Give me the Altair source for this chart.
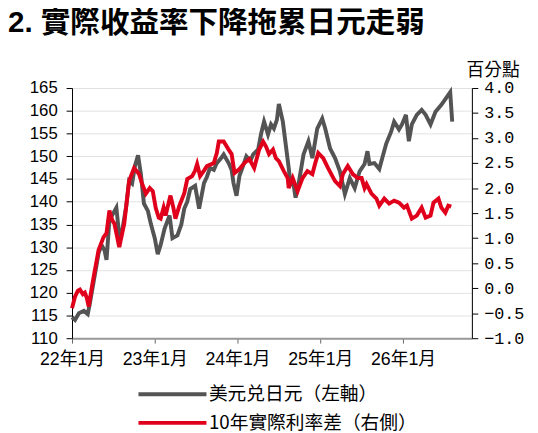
import altair as alt
import pandas as pd

LBL_USD = "美元兑日元（左軸）"
LBL_RR = "10年實際利率差（右側）"
TITLE = "2. 實際收益率下降拖累日元走弱"

usd_t = [2022.000, 2022.036, 2022.083, 2022.143, 2022.190, 2022.214, 2022.262, 2022.321, 2022.357, 2022.393,
         2022.417, 2022.452, 2022.500, 2022.536, 2022.571, 2022.607, 2022.655, 2022.690, 2022.726, 2022.762,
         2022.798, 2022.833, 2022.869, 2022.917, 2022.952, 2023.000, 2023.036, 2023.071, 2023.119, 2023.179,
         2023.214, 2023.274, 2023.321, 2023.357, 2023.393, 2023.429, 2023.488, 2023.536, 2023.595, 2023.631,
         2023.667, 2023.714, 2023.750, 2023.798, 2023.833, 2023.893, 2023.929, 2023.952, 2023.988, 2024.024,
         2024.060, 2024.107, 2024.155, 2024.190, 2024.250, 2024.286, 2024.321, 2024.369, 2024.405, 2024.440,
         2024.476, 2024.500, 2024.548, 2024.583, 2024.619, 2024.643, 2024.667, 2024.702, 2024.738, 2024.798,
         2024.857, 2024.905, 2024.964, 2025.024, 2025.060, 2025.119, 2025.179, 2025.238, 2025.298, 2025.357,
         2025.417, 2025.476, 2025.536, 2025.571, 2025.595, 2025.655, 2025.714, 2025.750, 2025.798, 2025.857,
         2025.893, 2025.952, 2025.988, 2026.036, 2026.071, 2026.107, 2026.167, 2026.226, 2026.274, 2026.333,
         2026.393, 2026.464, 2026.548, 2026.571, 2026.595]
usd_v = [114.6, 114.0, 115.5, 116.0, 115.3, 117.5, 122.5, 128.7, 130.5, 129.3,
         127.2, 136.0, 137.5, 138.7, 132.5, 133.7, 139.0, 144.6, 144.0, 148.0,
         150.2, 146.0, 139.6, 138.0, 135.2, 132.0, 128.5, 130.5, 134.1, 137.0,
         132.0, 132.6, 135.0, 138.5, 140.0, 142.8, 143.5, 138.5, 144.1, 145.5,
         147.4, 147.0, 148.5, 149.5, 150.4, 148.5, 147.0, 144.1, 141.3, 145.7,
         147.5, 150.0, 149.0, 150.4, 151.5, 155.0, 157.6, 154.8, 157.0, 156.1,
         158.0, 161.5, 157.6, 152.6, 147.4, 143.5, 145.0, 140.9, 143.9, 150.4,
         153.3, 149.6, 156.1, 158.3, 156.1, 151.7, 149.6, 146.7, 141.7, 145.2,
         143.0, 146.7, 148.3, 151.1, 148.3, 148.5, 147.2, 149.6, 152.8, 155.4,
         157.6, 155.9, 157.0, 159.1, 153.3, 157.0, 159.1, 160.2, 159.1, 157.0,
         159.8, 161.3, 163.5, 164.1, 157.6]

rr_t = [2022.000, 2022.036, 2022.071, 2022.095, 2022.131, 2022.155, 2022.179, 2022.202, 2022.238, 2022.262,
        2022.321, 2022.381, 2022.417, 2022.452, 2022.488, 2022.512, 2022.571, 2022.607, 2022.631, 2022.690,
        2022.750, 2022.810, 2022.845, 2022.893, 2022.940, 2022.976, 2023.012, 2023.048, 2023.071, 2023.107,
        2023.131, 2023.167, 2023.190, 2023.226, 2023.250, 2023.298, 2023.357, 2023.393, 2023.452, 2023.488,
        2023.512, 2023.548, 2023.595, 2023.631, 2023.714, 2023.750, 2023.774, 2023.833, 2023.893, 2023.929,
        2023.964, 2024.024, 2024.083, 2024.143, 2024.202, 2024.262, 2024.310, 2024.345, 2024.381, 2024.429,
        2024.464, 2024.500, 2024.560, 2024.607, 2024.619, 2024.667, 2024.726, 2024.786, 2024.845, 2024.905,
        2024.940, 2024.976, 2025.036, 2025.095, 2025.143, 2025.179, 2025.238, 2025.274, 2025.333, 2025.393,
        2025.452, 2025.500, 2025.536, 2025.560, 2025.619, 2025.679, 2025.714, 2025.774, 2025.833, 2025.893,
        2025.952, 2026.012, 2026.048, 2026.107, 2026.167, 2026.226, 2026.274, 2026.333, 2026.369, 2026.429,
        2026.464, 2026.512, 2026.548, 2026.583]
rr_v = [-0.40, -0.17, -0.05, -0.03, -0.12, -0.09, -0.20, -0.37, 0.00, 0.23,
        0.76, 1.02, 1.10, 1.55, 1.35, 1.29, 0.82, 1.10, 1.29, 2.14,
        2.40, 2.28, 2.10, 1.89, 2.00, 1.94, 1.60, 1.41, 1.39, 1.61,
        1.45, 1.70, 1.85, 1.60, 1.39, 1.65, 1.90, 2.18, 2.24, 2.35,
        2.48, 2.24, 2.35, 2.44, 2.50, 2.70, 2.93, 2.93, 2.77, 2.68,
        2.30, 2.38, 2.50, 2.58, 2.40, 2.77, 2.93, 2.83, 2.68, 2.77,
        2.60, 2.54, 2.34, 2.20, 2.00, 2.20, 1.94, 2.20, 2.34, 2.28,
        2.50, 2.70, 2.60, 2.40, 2.25, 2.14, 2.04, 2.28, 2.44, 2.28,
        2.20, 2.20, 2.00, 2.08, 1.89, 1.79, 1.65, 1.79, 1.69, 1.75,
        1.71, 1.61, 1.65, 1.39, 1.45, 1.61, 1.41, 1.45, 1.71, 1.79,
        1.61, 1.51, 1.65, 1.63]

x_ticks = [2022, 2023, 2024, 2025, 2026]
left_ticks = [110, 115, 120, 125, 130, 135, 140, 145, 150, 155, 160, 165]
right_ticks = [-1.0, -0.5, 0.0, 0.5, 1.0, 1.5, 2.0, 2.5, 3.0, 3.5, 4.0]

SANS = "Liberation Sans, Noto Sans CJK TC"
CJK = "Noto Sans CJK TC"
GRAY = "#545454"
RED = "#e0001b"

usd = pd.DataFrame({"t": usd_t, "v": usd_v, "s": LBL_USD})
rr = pd.DataFrame({"t": rr_t, "v": rr_v, "s": LBL_RR})

xenc = alt.X(
    "t:Q",
    scale=alt.Scale(domain=[2022.0, 2026.833], nice=False, zero=False),
    axis=alt.Axis(
        values=x_ticks, title=None, grid=False, labelOverlap=False, labelFlush=False,
        labelExpr="format(datum.value - 2000, 'd') + '年1月'",
        labelFont=SANS, labelFontSize=18, labelColor="#000",
        labelPadding=8, tickSize=5, tickColor="#666",
        domainColor="#999", domainWidth=2,
    ),
)

color = alt.Color(
    "s:N",
    scale=alt.Scale(domain=[LBL_USD, LBL_RR], range=[GRAY, RED]),
    legend=alt.Legend(
        title=None, orient="none", legendX=91, legendY=300,
        direction="vertical", symbolType="M-4,0L4,0", symbolSize=298,
        symbolStrokeWidth=4, labelFont=CJK, labelFontSize=19, labelColor="#000",
        labelOffset=26, labelLimit=0, rowPadding=8, padding=0,
    ),
)

left = alt.Chart(usd).mark_line(strokeWidth=4).encode(
    x=xenc,
    y=alt.Y(
        "v:Q",
        scale=alt.Scale(domain=[110, 165], nice=False, zero=False),
        axis=alt.Axis(
            values=left_ticks, title=None, orient="left",
            labelFont="Liberation Sans", labelFontSize=17, labelColor="#000",
            labelPadding=9, tickSize=6, tickColor="#000",
            domainColor="#000", domainWidth=1,
            grid=True, gridColor="#e2e2e2", gridWidth=1,
        ),
    ),
    color=color,
)

right = alt.Chart(rr).mark_line(strokeWidth=4).encode(
    x=xenc,
    y=alt.Y(
        "v:Q",
        scale=alt.Scale(domain=[-1, 4], nice=False, zero=False),
        axis=alt.Axis(
            values=right_ticks, format=".1f", orient="right",
            title="百分點", titleAngle=0, titleX=21, titleY=-13,
            titleAlign="center", titleBaseline="alphabetic",
            titleFont=CJK, titleFontSize=18, titleFontWeight="normal", titleColor="#000",
            labelFont="Liberation Mono", labelFontSize=17, labelColor="#000",
            labelPadding=6, tickSize=6, tickColor="#000",
            domainColor="#000", domainWidth=1, grid=False,
        ),
    ),
    color=color,
)

chart = alt.layer(left, right).resolve_scale(y="independent").properties(
    width=406, height=254,
    padding={"left": 65, "top": 78, "right": 59, "bottom": 93},
    autosize=alt.AutoSizeParams(type="none"),
    title=alt.Title(
        TITLE, anchor="start", frame="group", dx=-65, offset=24,
        font=SANS, fontSize=30, fontWeight="bold", color="#000",
    ),
).configure_view(stroke=None).configure(background="white")

chart.save("out.html", embed_options={"renderer": "svg", "actions": False})
